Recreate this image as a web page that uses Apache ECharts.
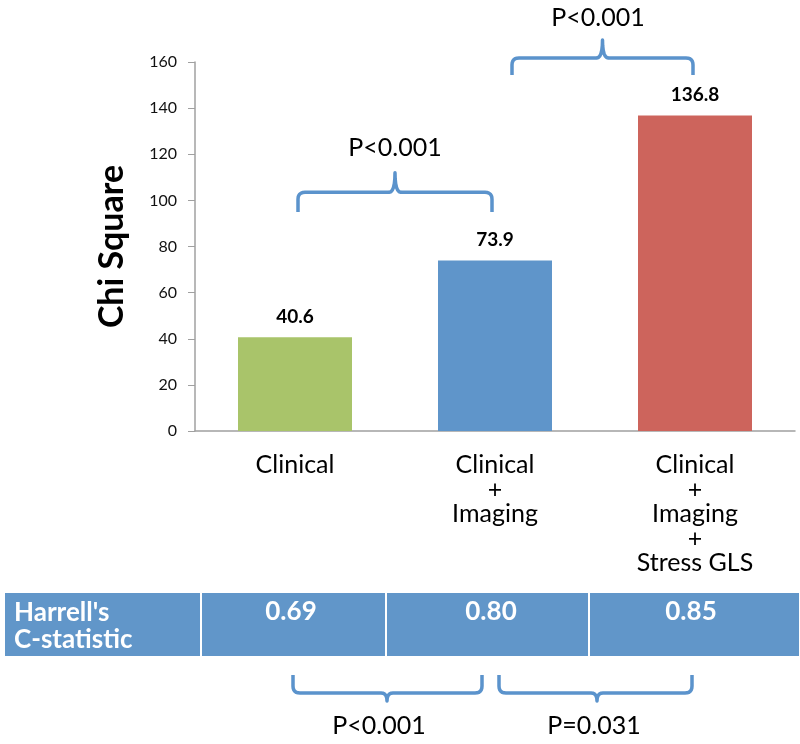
<!DOCTYPE html>
<html><head><meta charset="utf-8">
<script src="https://cdn.jsdelivr.net/npm/echarts@6/dist/echarts.min.js"></script>
<style>html,body{margin:0;padding:0;background:#fff}#c{width:800px;height:744px}</style>
</head><body><div id="c"></div>
<script>
const categories = ['Clinical', 'Clinical\n+\nImaging', 'Clinical\n+\nImaging\n+\nStress GLS'];
const chiSquare = [40.6, 73.9, 136.8];
const barColors = ['#a9c46a', '#5f95ca', '#cd645c'];
const yTicks = [0, 20, 40, 60, 80, 100, 120, 140, 160];
const tableHeader = "Harrell's\nC-statistic";
const cStats = ['0.69', '0.80', '0.85'];
const topComparisons = ['P<0.001', 'P<0.001'];
const bottomComparisons = ['P<0.001', 'P=0.031'];

const FONT = 'Lato, "Open Sans", sans-serif';
const BRACE = '#5b93cc';
const chart = echarts.init(document.getElementById('c'));
chart.setOption({
  animation: false,
  grid: {left: 195, right: 5, top: 62, bottom: 313, containLabel: false},
  xAxis: {
    type: 'category', data: categories,
    axisLine: {lineStyle: {color: '#a0a0a0', width: 1.5}},
    axisTick: {show: false},
    axisLabel: {color: '#000', fontSize: 25, fontFamily: FONT, lineHeight: 24.5, margin: 22, interval: 0}
  },
  yAxis: {
    type: 'value', min: yTicks[0], max: yTicks[yTicks.length - 1], interval: 20,
    name: 'Chi Square', nameLocation: 'middle', nameGap: 66,
    nameTextStyle: {fontSize: 34, fontWeight: 'bold', color: '#000', fontFamily: FONT},
    axisLine: {show: true, lineStyle: {color: '#a0a0a0', width: 1.5}},
    axisTick: {show: true, length: 7, lineStyle: {color: '#a0a0a0'}},
    splitLine: {show: false},
    axisLabel: {color: '#111', fontSize: 16, fontFamily: FONT, margin: 18}
  },
  series: [{
    type: 'bar', barWidth: 114,
    data: chiSquare.map((v, i) => ({value: v, itemStyle: {color: barColors[i]}})),
    label: {show: true, position: 'top', distance: 11, color: '#000', fontWeight: 'bold', fontSize: 19, fontFamily: FONT}
  }]
});

function quad(p0, p1, p2, n) {
  const out = [];
  for (let k = 1; k <= n; k++) {
    const t = k / n, u = 1 - t;
    out.push([u * u * p0[0] + 2 * u * t * p1[0] + t * t * p2[0], u * u * p0[1] + 2 * u * t * p1[1] + t * t * p2[1]]);
  }
  return out;
}
function bracePoints(x1, x2, yEnd, yH, yPeak, xc) {
  const r = 7, s = yEnd > yH ? 1 : -1, pr = 6;
  let pts = [[x1, yEnd], [x1, yH + s * r]];
  pts = pts.concat(quad([x1, yH + s * r], [x1, yH], [x1 + r, yH], 6));
  pts.push([xc - pr, yH]);
  pts = pts.concat(quad([xc - pr, yH], [xc, yH], [xc, yPeak], 6));
  pts = pts.concat(quad([xc, yPeak], [xc, yH], [xc + pr, yH], 6));
  pts.push([x2 - r, yH]);
  pts = pts.concat(quad([x2 - r, yH], [x2, yH], [x2, yH + s * r], 6));
  pts.push([x2, yEnd]);
  return pts;
}
const px = i => chart.convertToPixel({xAxisIndex: 0}, i);
const py = v => chart.convertToPixel({yAxisIndex: 0}, v);

const g = [];
const topGeo = [
  {x1: px(0) + 3, x2: px(1) - 3, yEnd: py(95), yH: py(103.5), yPeak: py(112), ty: 148, tx: 395},
  {x1: px(1) + 17, x2: px(2) - 2, yEnd: 75, yH: 58, yPeak: 40, ty: 18, tx: 598}
];
topComparisons.forEach((label, i) => {
  const t = topGeo[i];
  const xc = (t.x1 + t.x2) / 2;
  g.push({type: 'polyline', shape: {points: bracePoints(t.x1, t.x2, t.yEnd, t.yH, t.yPeak, xc)},
    style: {fill: null, stroke: BRACE, lineWidth: 3.5, lineJoin: 'round'}});
  g.push({type: 'text', x: t.tx, y: t.ty,
    style: {text: label, fontSize: 25, fontFamily: FONT, fill: '#000', align: 'center', verticalAlign: 'middle'}});
});
const cellX = [4, 201, 386, 589, 800];
const tTop = 592, tH = 65;
for (let i = 0; i < 4; i++) {
  g.push({type: 'rect', shape: {x: cellX[i], y: tTop, width: cellX[i + 1] - cellX[i], height: tH},
    style: {fill: '#6196c9', stroke: '#fff', lineWidth: 2}});
}
g.push({type: 'text', x: 14, y: 626, style: {text: tableHeader, fontSize: 26, fontWeight: 'bold', lineHeight: 27,
  fontFamily: FONT, fill: '#fff', align: 'left', verticalAlign: 'middle'}});
cStats.forEach((s, i) => {
  g.push({type: 'text', x: px(i) - 4, y: 612, style: {text: s, fontSize: 26, fontWeight: 'bold',
    fontFamily: FONT, fill: '#fff', align: 'center', verticalAlign: 'middle'}});
});
const botGeo = [{x1: 293, x2: 482, xc: 387, tx: 379}, {x1: 499, x2: 692, xc: 597, tx: 594}];
bottomComparisons.forEach((label, i) => {
  const b = botGeo[i];
  g.push({type: 'polyline', shape: {points: bracePoints(b.x1, b.x2, 675, 693, 701, b.xc)},
    style: {fill: null, stroke: BRACE, lineWidth: 3.5, lineJoin: 'round'}});
  g.push({type: 'text', x: b.tx, y: 726,
    style: {text: label, fontSize: 25, fontFamily: FONT, fill: '#000', align: 'center', verticalAlign: 'middle'}});
});
chart.setOption({graphic: g});
</script></body></html>
